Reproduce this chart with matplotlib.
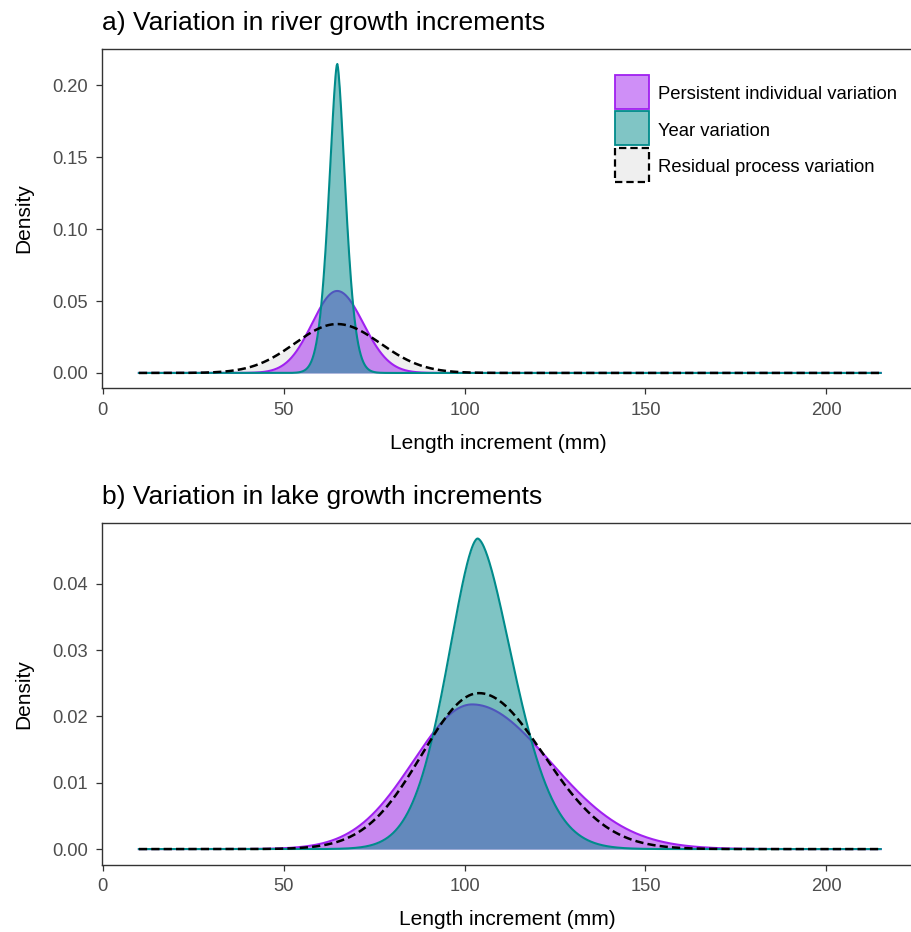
import numpy as np
import matplotlib
matplotlib.use('Agg')
import matplotlib.pyplot as plt
from matplotlib.patches import Rectangle
from matplotlib.ticker import FormatStrFormatter

plt.rcParams['font.family'] = ['Liberation Sans', 'DejaVu Sans']

# variance components shown in both panels
components = ['Persistent individual variation', 'Year variation', 'Residual process variation']

# curve: mode, peak height, left/right width, shape exponent
river_mode = [64.8, 64.8, 64.8]
river_peak = [0.057, 0.215, 0.034]
river_sd_left = [6.9, 2.2, 11.7]
river_sd_right = [7.2, 2.2, 11.9]
river_shape = [2.0, 1.6, 2.0]

lake_mode = [102.1, 103.6, 104.0]
lake_peak = [0.0218, 0.0468, 0.0235]
lake_sd_left = [16.3, 8.2, 15.8]
lake_sd_right = [21.5, 9.6, 17.8]
lake_shape = [2.0, 1.7, 2.0]

x_min, x_max = 10, 215
x_ticks = [0, 50, 100, 150, 200]
river_yticks = [0.00, 0.05, 0.10, 0.15, 0.20]
lake_yticks = [0.00, 0.01, 0.02, 0.03, 0.04]

purple = '#A020F0'
teal = '#008B8B'
resid_fill = '#EFEFEF'
W, H = 912, 932


def bump(x, mode, peak, sd_left, sd_right, power):
    sd = np.where(x < mode, sd_left, sd_right)
    z = np.abs(x - mode) / sd
    return peak * np.exp(-0.5 * z ** power)


def draw_panel(ax, modes, peaks, sdl, sdr, shapes, yticks, title, xlab_px):
    x = np.linspace(x_min, x_max, 1201)
    curves = [bump(x, modes[i], peaks[i], sdl[i], sdr[i], shapes[i]) for i in range(3)]
    persist, year, resid = curves

    ax.fill_between(x, 0, resid, color=resid_fill, lw=0, zorder=1)
    ax.fill_between(x, 0, persist, color=purple, alpha=0.5, lw=0, zorder=2)
    ax.plot(x, persist, color=purple, lw=1.5, zorder=3)
    ax.fill_between(x, 0, year, color=teal, alpha=0.5, lw=0, zorder=4)
    ax.plot(x, year, color=teal, lw=1.5, zorder=5)
    ax.plot(x, resid, color='black', lw=1.8, dashes=(3.3, 1.65), zorder=6)

    ymax = max(c.max() for c in curves)
    span = x_max - x_min
    ax.set_xlim(x_min - 0.05 * span, x_max + 0.05 * span)
    ax.set_ylim(-0.05 * ymax, 1.05 * ymax)
    ax.set_xticks(x_ticks)
    ax.set_yticks(yticks)
    ax.yaxis.set_major_formatter(FormatStrFormatter('%.2f'))
    ax.tick_params(labelsize=13.2, labelcolor='#4D4D4D', color='#333333',
                   length=4, width=0.9, pad=6)
    for side in ['left', 'bottom', 'top', 'right']:
        ax.spines[side].set_color('#333333')
        ax.spines[side].set_linewidth(1.0)
    ax.set_xlabel('Length increment (mm)', fontsize=15, labelpad=10.5)
    bb = ax.get_position()
    ax.xaxis.label.set_x((xlab_px / W - bb.x0) / bb.width)
    ax.set_ylabel('Density', fontsize=15, labelpad=13.5)
    ax.set_title(title, loc='left', fontsize=19, pad=13.5)


fig = plt.figure(figsize=(9.12, 9.32), dpi=100)
left, width = 101.8, 816
ax_a = fig.add_axes([left / W, 1 - 388.4 / H, width / W, (388.4 - 48.5) / H])
ax_b = fig.add_axes([left / W, 1 - 864.6 / H, width / W, (864.6 - 523) / H])

draw_panel(ax_a, river_mode, river_peak, river_sd_left, river_sd_right, river_shape,
           river_yticks, 'a) Variation in river growth increments', 498.5)
draw_panel(ax_b, lake_mode, lake_peak, lake_sd_left, lake_sd_right, lake_shape,
           lake_yticks, 'b) Variation in lake growth increments', 507.5)

# legend of panel a, keys drawn as boxes in figure pixels
key_styles = [
    dict(facecolor='#CF8FF7', edgecolor=purple, linewidth=1.3),
    dict(facecolor='#80C5C5', edgecolor=teal, linewidth=1.3),
    dict(facecolor=resid_fill, edgecolor='black', linewidth=1.6, linestyle=(0, (3.3, 1.8))),
]
key_tops = [74.5, 111.0, 148.0]
key_size = 34
for label, style, top in zip(components, key_styles, key_tops):
    fig.add_artist(Rectangle((614.5 / W, 1 - (top + key_size) / H), key_size / W, key_size / H,
                             transform=fig.transFigure, **style))
    fig.text(658.5 / W, 1 - (top + key_size / 2 + 3) / H, label, fontsize=13.3,
             va='center', ha='left')

fig.savefig('out.png', dpi=100, facecolor='white')
